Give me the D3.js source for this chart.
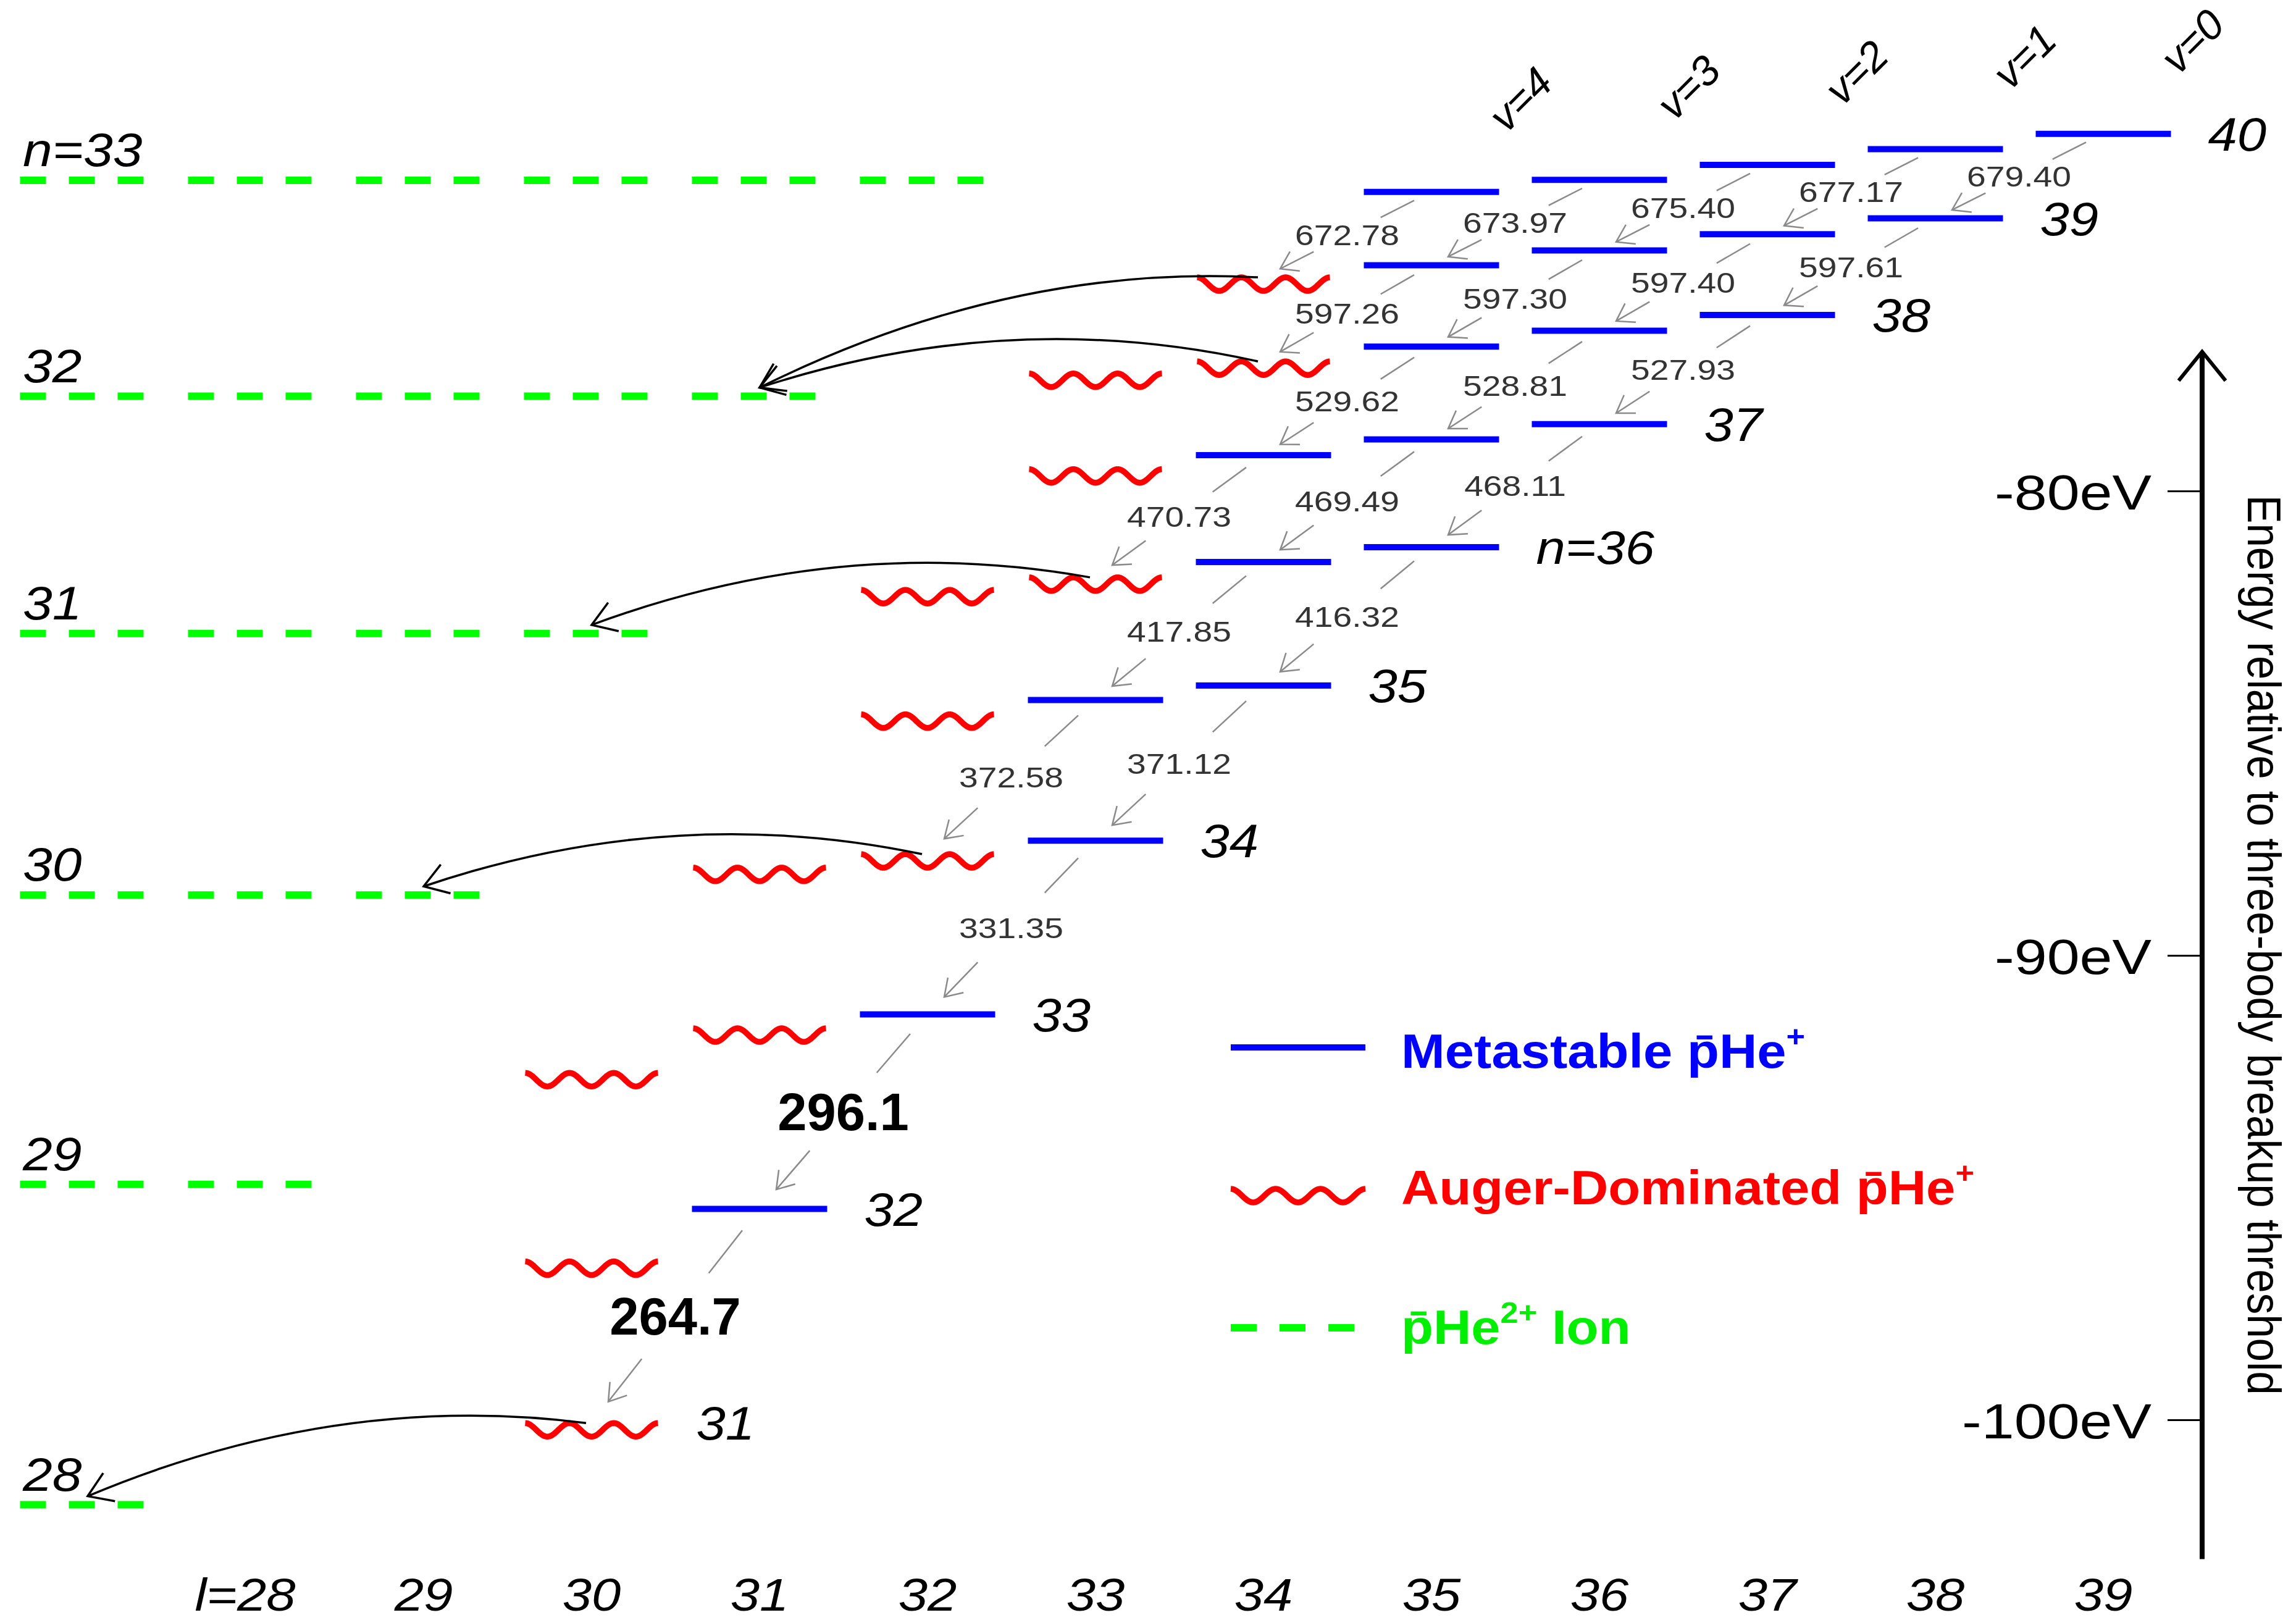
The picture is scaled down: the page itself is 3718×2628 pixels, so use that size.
<!DOCTYPE html>
<html><head><meta charset="utf-8">
<script src="https://cdn.jsdelivr.net/npm/d3@7"></script>
<style>html,body{margin:0;padding:0;background:#fff;} svg{display:block;}</style>
</head><body>
<svg id="chart" width="3718" height="2628"></svg>
<script>
// ---------------- data ----------------
const lTicks = [28, 29, 30, 31, 32, 33, 34, 35, 36, 37, 38, 39];
const energyTicks = [-80, -90, -100];
const axisRangeEV = [-103, -77];

// metastable (radiative) pHe+ states: n, l, energy (eV)
const metastableLevels = [
  {n:40,l:39,e:-72.31},{n:40,l:38,e:-72.64},{n:40,l:37,e:-72.98},{n:40,l:36,e:-73.30},{n:40,l:35,e:-73.56},
  {n:39,l:38,e:-74.13},{n:39,l:37,e:-74.47},{n:39,l:36,e:-74.82},{n:39,l:35,e:-75.14},
  {n:38,l:37,e:-76.21},{n:38,l:36,e:-76.55},{n:38,l:35,e:-76.89},
  {n:37,l:36,e:-78.56},{n:37,l:35,e:-78.89},{n:37,l:34,e:-79.23},
  {n:36,l:35,e:-81.21},{n:36,l:34,e:-81.53},
  {n:35,l:34,e:-84.19},{n:35,l:33,e:-84.50},
  {n:34,l:33,e:-87.53},
  {n:33,l:32,e:-91.27},
  {n:32,l:31,e:-95.46}
];
// Auger-dominated states
const augerLevels = [
  {n:39,l:34,e:-75.40},
  {n:38,l:34,e:-77.21},{n:38,l:33,e:-77.47},
  {n:37,l:33,e:-79.53},
  {n:36,l:33,e:-81.86},{n:36,l:32,e:-82.13},
  {n:35,l:32,e:-84.81},
  {n:34,l:32,e:-87.82},{n:34,l:31,e:-88.11},
  {n:33,l:31,e:-91.57},{n:33,l:30,e:-92.53},
  {n:32,l:30,e:-96.59},
  {n:31,l:30,e:-100.07}
];
// pHe2+ ion levels
const ionLevels = [
  {n:33,e:-73.31,label:"n=33"},{n:32,e:-77.96,label:"32"},{n:31,e:-83.07,label:"31"},
  {n:30,e:-88.70,label:"30"},{n:29,e:-94.93,label:"29"},{n:28,e:-101.83,label:"28"}
];
const ionFirstL = 27;
// row labels (right end of each n row)
const rowLabels = [
  {n:40,text:"40"},{n:39,text:"39"},{n:38,text:"38"},{n:37,text:"37"},{n:36,text:"n=36"},
  {n:35,text:"35"},{n:34,text:"34"},{n:33,text:"33"},{n:32,text:"32"},{n:31,text:"31"}
];
// vibrational quantum number labels
const vibLabels = [{v:4,l:35},{v:3,l:36},{v:2,l:37},{v:1,l:38},{v:0,l:39}];
// laser transitions (n,l) -> (n-1,l-1), wavelength in nm
const transitions = [
  {n:40,l:39,label:"679.40"},{n:40,l:38,label:"677.17"},{n:40,l:37,label:"675.40"},
  {n:40,l:36,label:"673.97"},{n:40,l:35,label:"672.78"},
  {n:39,l:38,label:"597.61"},{n:39,l:37,label:"597.40"},{n:39,l:36,label:"597.30"},{n:39,l:35,label:"597.26"},
  {n:38,l:37,label:"527.93"},{n:38,l:36,label:"528.81"},{n:38,l:35,label:"529.62"},
  {n:37,l:36,label:"468.11"},{n:37,l:35,label:"469.49"},{n:37,l:34,label:"470.73"},
  {n:36,l:35,label:"416.32"},{n:36,l:34,label:"417.85"},
  {n:35,l:34,label:"371.12"},{n:35,l:33,label:"372.58"},
  {n:34,l:33,label:"331.35"},
  {n:33,l:32,label:"296.1",bold:true},
  {n:32,l:31,label:"264.7",bold:true}
];
// Auger decays: from state (n,l) to ion level ionN drawn at column lTo
const augerDecays = [
  {n:39,l:34,ionN:32,lTo:31},
  {n:38,l:34,ionN:32,lTo:31},
  {n:36,l:33,ionN:31,lTo:30},
  {n:34,l:32,ionN:30,lTo:29},
  {n:31,l:30,ionN:28,lTo:27}
];
const axisTitle = "Energy relative to three-body breakup threshold";

// ---------------- layout / style ----------------
const W = 3718, H = 2628;
const FONT = "'Liberation Sans', Arial, Helvetica, sans-serif";
const BLUE = "#0000ff", RED = "#ff0000", GREEN = "#00ff00", GRAY = "#8a8a8a";
const HALF = 109.5;        // half width of a level bar
const WAVE_A = 11;         // wave amplitude
const AXIS_X = 3566;

const xScale = d3.scaleLinear().domain([33, 39]).range([1774, 3406]);
const yScale = d3.scaleLinear().domain([-80, -100]).range([795, 2299]);

const svg = d3.select("#chart");
svg.append("rect").attr("width", W).attr("height", H).attr("fill", "#fff");

function lvl(n, l) {
  return metastableLevels.find(d => d.n === n && d.l === l) || augerLevels.find(d => d.n === n && d.l === l);
}
function wavePath(xc, y, half) {
  const pts = d3.range(0, 121).map(i => {
    const t = i / 120;
    return [xc - half + 2 * half * t, y + WAVE_A * (1 - Math.cos(2 * Math.PI * 3 * t))];
  });
  return d3.line()(pts);
}
function arrowHead(g, tip, from, len, halfAng, color, width) {
  const ang = Math.atan2(from[1] - tip[1], from[0] - tip[0]);
  const a1 = ang + halfAng, a2 = ang - halfAng;
  g.append("path")
    .attr("d", `M${tip[0] + len * Math.cos(a1)},${tip[1] + len * Math.sin(a1)}L${tip[0]},${tip[1]}L${tip[0] + len * Math.cos(a2)},${tip[1] + len * Math.sin(a2)}`)
    .attr("fill", "none").attr("stroke", color).attr("stroke-width", width);
}
function stext(g, x, y, txt, o) {
  return g.append("text")
    .attr("transform", `translate(${x},${y}) scale(${o.sx || 1},1)`)
    .attr("text-anchor", o.anchor || "start")
    .attr("font-family", FONT)
    .attr("font-size", o.size)
    .attr("font-style", o.italic ? "italic" : "normal")
    .attr("font-weight", o.bold ? "bold" : "normal")
    .attr("fill", o.fill || "#000")
    .text(txt);
}

// ---------------- ion levels (green dashed) ----------------
const gIon = svg.append("g");
ionLevels.forEach(ion => {
  const ls = d3.range(ionFirstL, ion.n);
  ls.forEach(l => {
    gIon.append("line")
      .attr("x1", xScale(l) - HALF).attr("x2", xScale(l) + HALF)
      .attr("y1", yScale(ion.e)).attr("y2", yScale(ion.e))
      .attr("stroke", GREEN).attr("stroke-width", 12).attr("stroke-dasharray", "42,37");
  });
  stext(gIon, 37, yScale(ion.e) - 23, ion.label, {size: 76, italic: true, sx: 1.13});
});

// ---------------- metastable levels ----------------
svg.append("g").selectAll("line").data(metastableLevels).join("line")
  .attr("x1", d => xScale(d.l) - HALF).attr("x2", d => xScale(d.l) + HALF)
  .attr("y1", d => yScale(d.e)).attr("y2", d => yScale(d.e))
  .attr("stroke", BLUE).attr("stroke-width", 10);

// ---------------- Auger levels ----------------
svg.append("g").selectAll("path").data(augerLevels).join("path")
  .attr("d", d => wavePath(xScale(d.l), yScale(d.e), HALF - 2))
  .attr("fill", "none").attr("stroke", RED).attr("stroke-width", 9.5).attr("stroke-linejoin", "round");

// ---------------- transitions ----------------
const gTr = svg.append("g");
transitions.forEach(t => {
  const up = lvl(t.n, t.l), lo = lvl(t.n - 1, t.l - 1);
  const xu = xScale(t.l), yu = yScale(up.e), xl = xScale(t.l - 1), yl = yScale(lo.e);
  const G = yl - yu;
  const p0 = [xu - 28, yu + 0.1 * G], p1 = [xl + 27, yl - 0.1 * G];
  const at = s => [p0[0] + s * (p1[0] - p0[0]), p0[1] + s * (p1[1] - p0[1])];
  const a = at(0), b = at(0.25), c = at(0.75);
  gTr.append("line").attr("x1", a[0]).attr("y1", a[1]).attr("x2", b[0]).attr("y2", b[1])
    .attr("stroke", GRAY).attr("stroke-width", 2.5);
  gTr.append("line").attr("x1", c[0]).attr("y1", c[1]).attr("x2", p1[0]).attr("y2", p1[1])
    .attr("stroke", GRAY).attr("stroke-width", 2.5);
  arrowHead(gTr, p1, p0, 32, 0.58, GRAY, 2.5);
  const m = at(0.5);
  if (t.bold) {
    stext(gTr, m[0], m[1] + 30, t.label, {size: 85, bold: true, anchor: "middle"});
  } else {
    stext(gTr, m[0], m[1] + 17, t.label, {size: 46, anchor: "middle", sx: 1.2, fill: "#333"});
  }
});

// ---------------- Auger decay curves ----------------
const gAu = svg.append("g");
const K = 3.4e-4;
augerDecays.forEach(a => {
  const s = lvl(a.n, a.l);
  const ion = ionLevels.find(d => d.n === a.ionN);
  const x0 = xScale(a.l) - 9, y0 = yScale(s.e);
  const x2 = xScale(a.lTo), y2 = yScale(ion.e) - 14;
  const D = x2 - x0;
  const cx = (x0 + x2) / 2, cy = (y0 + y2 - K * D * D) / 2;
  const p = d3.path();
  p.moveTo(x0, y0); p.quadraticCurveTo(cx, cy, x2, y2);
  gAu.append("path").attr("d", p.toString()).attr("fill", "none").attr("stroke", "#000").attr("stroke-width", 3.5);
  arrowHead(gAu, [x2, y2], [cx, cy], 45, 0.58, "#000", 3.5);
});

// ---------------- row labels ----------------
const gLab = svg.append("g");
rowLabels.forEach(r => {
  const s = lvl(r.n, r.n - 1);
  stext(gLab, xScale(s.l) + HALF + 60, yScale(s.e) + 27, r.text, {size: 76, italic: true, sx: 1.12});
});

// vibrational labels
vibLabels.forEach(v => {
  const top = lvl(40, v.l);
  const cx = xScale(v.l) + 144, cy = yScale(top.e) - 150;
  gLab.append("text")
    .attr("transform", `translate(${cx},${cy}) rotate(-45)`)
    .attr("text-anchor", "middle").attr("dy", "0.35em")
    .attr("font-family", FONT).attr("font-size", 68).attr("font-style", "italic")
    .text("v=" + v.v);
});

// bottom l labels
lTicks.forEach((l, i) => {
  const txt = i === 0 ? "l=" + l : String(l);
  const x = i === 0 ? xScale(l) - 17 : xScale(l);
  stext(gLab, x, 2608, txt, {size: 74, italic: true, sx: 1.15, anchor: "middle"});
});

// ---------------- energy axis ----------------
const gAx = svg.append("g");
gAx.append("line").attr("x1", AXIS_X).attr("x2", AXIS_X)
  .attr("y1", yScale(axisRangeEV[1]) + 4).attr("y2", yScale(axisRangeEV[0]))
  .attr("stroke", "#000").attr("stroke-width", 8);
const yTop = yScale(axisRangeEV[1]);
gAx.append("path").attr("d", `M${AXIS_X - 38},${yTop + 47}L${AXIS_X},${yTop}L${AXIS_X + 38},${yTop + 47}`)
  .attr("fill", "none").attr("stroke", "#000").attr("stroke-width", 6);
const axisG = svg.append("g").attr("transform", `translate(${AXIS_X},0)`)
  .call(d3.axisLeft(yScale).tickValues(energyTicks).tickFormat(d => d + "eV").tickSize(56).tickPadding(26));
axisG.select(".domain").remove();
axisG.selectAll(".tick line").attr("stroke", "#000").attr("stroke-width", 3);
axisG.selectAll(".tick text")
  .attr("x", null).attr("dy", null)
  .attr("transform", "translate(-82,29) scale(1.19,1)")
  .attr("text-anchor", "end")
  .attr("font-family", FONT).attr("font-size", 80).attr("fill", "#000");

gAx.append("text")
  .attr("transform", `translate(3640,1530) rotate(90) scale(1,1.1)`)
  .attr("text-anchor", "middle")
  .attr("font-family", FONT).attr("font-size", 69).attr("fill", "#000")
  .text(axisTitle);

// ---------------- legend ----------------
const gLeg = svg.append("g");
const LX0 = 1993, LX1 = 2211, LTX = 2269;
gLeg.append("line").attr("x1", LX0).attr("x2", LX1).attr("y1", 1696).attr("y2", 1696)
  .attr("stroke", BLUE).attr("stroke-width", 10);
gLeg.append("path").attr("d", wavePath((LX0 + LX1) / 2, 1925, (LX1 - LX0) / 2))
  .attr("fill", "none").attr("stroke", RED).attr("stroke-width", 9.5);
gLeg.append("line").attr("x1", LX0).attr("x2", LX1).attr("y1", 2150).attr("y2", 2150)
  .attr("stroke", GREEN).attr("stroke-width", 12).attr("stroke-dasharray", "42,37");

function legendText(y, main, sup, tail, color) {
  const t = stext(gLeg, LTX, y, "", {size: 78, bold: true, sx: 1.09, fill: color});
  t.append("tspan").text(main);
  t.append("tspan").attr("dy", -34).attr("font-size", 48).text(sup);
  if (tail) t.append("tspan").attr("dy", 34).attr("font-size", 78).text(tail);
}
legendText(1729, "Metastable p\u0304He", "+", null, BLUE);
legendText(1950, "Auger-Dominated p\u0304He", "+", null, RED);
legendText(2176, "p\u0304He", "2+", " Ion", "#00ee00");
</script>
</body></html>
